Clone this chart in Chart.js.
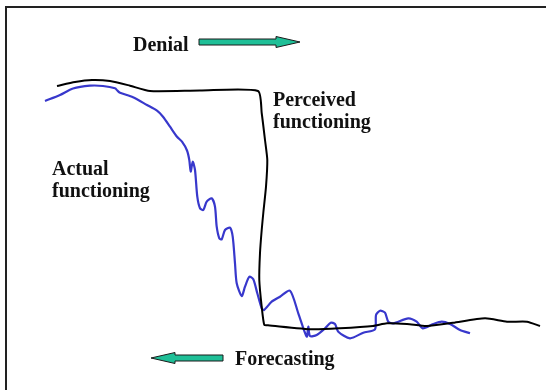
<!DOCTYPE html>
<html>
<head>
<meta charset="utf-8">
<script src="https://cdn.jsdelivr.net/npm/chart.js@4/dist/chart.umd.min.js"></script>
<style>
  html, body { margin: 0; background: #fff; overflow: hidden; width: 546px; height: 390px; }
  #frame { position: absolute; left: 5px; top: 6px; width: 539px; height: 382px; border-top: 2px solid #222; border-left: 2px solid #222; }
  #wrap { position: absolute; left: 0; top: 0; width: 546px; height: 390px; }
</style>
</head>
<body>
<div id="frame"></div>
<div id="wrap"><canvas id="sketch"></canvas></div>
<script>
// perceived functioning (black line)
let perceivedX = [57, 75, 92, 110, 130, 150, 200, 258, 261.7, 265, 267.3, 266, 263.3, 261.7, 260, 259.3, 261.7, 264.3, 268, 313, 340, 373, 387, 407, 427, 453, 485, 507, 527, 540];
let perceivedY = [86, 82, 80, 81, 85.7, 91, 90.5, 91, 113, 140, 160, 186.7, 213, 230, 253, 280, 306.7, 325, 325.3, 329.3, 328.3, 326, 323.3, 324, 326, 322.7, 318.3, 321.7, 321.7, 326];

// actual functioning (blue line)
let actualX = [45, 60, 73, 90, 103, 115, 117.5, 120, 133, 147, 157, 163, 170, 177, 182, 187, 189.3, 190.7, 192.7, 195, 197.3, 200, 203.3, 206.7, 211.7, 215, 216.7, 219.3, 221.7, 225, 230, 232.7, 235, 236.7, 241.7, 245, 249.3, 253.3, 257.3, 261.7, 264, 271.7, 280, 290, 298.3, 306.7, 308.3, 310, 316.7, 325, 330.7, 335, 338.3, 350, 363.3, 375, 376, 380, 385, 388.3, 393.3, 408.3, 416.7, 422.7, 433.3, 441.7, 450, 460, 470];
let actualY = [101, 95, 88.5, 85.7, 86, 88.3, 90.7, 92.7, 97.3, 105, 110.7, 116.7, 126.7, 136.7, 141.7, 150.5, 160, 171.5, 161.7, 170, 196.7, 208.3, 210, 201.7, 198.3, 206.7, 226.7, 238.3, 239.3, 230, 227.7, 236.7, 263.3, 283.3, 296, 286.7, 276.7, 279.3, 293.3, 308.3, 310, 301.7, 296.7, 290.7, 313.3, 336.7, 326.7, 336, 335, 328.3, 322.7, 324, 331.7, 338.3, 332.7, 329.3, 315, 310.7, 312.7, 321.7, 323.3, 318.3, 321.7, 328.3, 324, 321.7, 324, 330, 333.3];

// labels written on the sketch
let noteText = ["Denial", "Perceived", "functioning", "Actual", "functioning", "Forecasting"];
let noteX = [133, 273, 273, 52, 52, 235];
let noteY = [51, 106, 128, 175, 197, 365];

// arrows: tail x, tip x, y
let arrowFrom = [199, 223];
let arrowTo = [300, 151];
let arrowY = [42, 358];

function toPoints(xs, ys) {
    return xs.map(function (x, i) {
        return { x: x, y: ys[i] };
    });
}

// draws labels and arrows through the scales
const sketchNotes = {
    id: 'sketchNotes',
    afterDatasetsDraw(chart) {
        const c = chart.ctx;
        const sx = chart.scales.x, sy = chart.scales.y;
        c.save();
        for (let i = 0; i < arrowFrom.length; i++) {
            let x0 = sx.getPixelForValue(arrowFrom[i]);
            let x1 = sx.getPixelForValue(arrowTo[i]);
            let y = sy.getPixelForValue(arrowY[i]);
            let dir = x1 > x0 ? 1 : -1;
            let hx = x1 - dir * 24;
            c.beginPath();
            c.moveTo(x0, y - 3);
            c.lineTo(hx, y - 3);
            c.lineTo(hx, y - 5.5);
            c.lineTo(x1, y);
            c.lineTo(hx, y + 5.5);
            c.lineTo(hx, y + 3);
            c.lineTo(x0, y + 3);
            c.closePath();
            c.fillStyle = '#1fbf97';
            c.fill();
            c.lineWidth = 1;
            c.strokeStyle = '#1a1a1a';
            c.stroke();
        }
        c.fillStyle = '#111';
        c.font = 'bold 20px "Liberation Serif", serif';
        c.textAlign = 'left';
        c.textBaseline = 'alphabetic';
        for (let i = 0; i < noteText.length; i++) {
            c.fillText(noteText[i], sx.getPixelForValue(noteX[i]), sy.getPixelForValue(noteY[i]));
        }
        c.restore();
    }
};

let ctx = document.getElementById('sketch').getContext('2d');

let chart = new Chart(ctx, {
    type: 'scatter',
    data: {
        datasets: [
            {
                label: 'Perceived functioning',
                data: toPoints(perceivedX, perceivedY),
                showLine: true,
                borderColor: '#000',
                borderWidth: 2,
                pointRadius: 0,
                tension: 0.2
            },
            {
                label: 'Actual functioning',
                data: toPoints(actualX, actualY),
                showLine: true,
                borderColor: '#3838cc',
                borderWidth: 2.2,
                pointRadius: 0,
                tension: 0.25
            }
        ]
    },
    options: {
        responsive: true,
        maintainAspectRatio: false,
        animation: false,
        layout: { padding: 0 },
        plugins: {
            legend: { display: false },
            tooltip: { enabled: false }
        },
        scales: {
            x: { type: 'linear', min: 0, max: 546, display: false },
            y: { type: 'linear', min: 0, max: 390, reverse: true, display: false }
        }
    },
    plugins: [sketchNotes]
});
</script>
</body>
</html>
